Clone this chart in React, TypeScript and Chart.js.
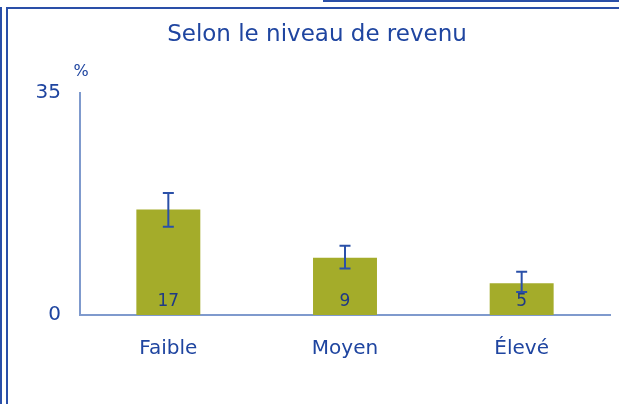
import React, { useEffect, useRef } from "react";
import { Chart, registerables } from "chart.js";

Chart.register(...registerables);

const categories = ["Faible", "Moyen", "Élevé"];
const values = [16.6, 9.0, 5.0];
const valueLabels = ["17", "9", "5"];
const errLow = [13.9, 7.3, 3.6];
const errHigh = [19.2, 10.9, 6.8];
const yTicks = [0, 35];
const titleText = "Selon le niveau de revenu";
const unitText = "%";

const TEXT = "#1f45a0";
const AXIS = "#7f9acd";
const BAR = "#a4ac2a";
const FONT = "'DejaVu Sans', sans-serif";

const extrasPlugin = {
  id: "extras",
  afterDatasetsDraw(chart: any) {
    const ctx = chart.ctx;
    const meta = chart.getDatasetMeta(0);
    const y = chart.scales.y;
    const area = chart.chartArea;
    ctx.save();
    // error bars
    ctx.strokeStyle = "#2a50a8";
    ctx.lineWidth = 2;
    meta.data.forEach((bar: any, i: number) => {
      const x = bar.x;
      const yl = y.getPixelForValue(errLow[i]);
      const yh = y.getPixelForValue(errHigh[i]);
      ctx.beginPath();
      ctx.moveTo(x, yl);
      ctx.lineTo(x, yh);
      ctx.moveTo(x - 5.5, yl);
      ctx.lineTo(x + 5.5, yl);
      ctx.moveTo(x - 5.5, yh);
      ctx.lineTo(x + 5.5, yh);
      ctx.stroke();
    });
    // value labels
    ctx.fillStyle = "#1f3a85";
    ctx.font = "17px " + FONT;
    ctx.textAlign = "center";
    ctx.textBaseline = "middle";
    meta.data.forEach((bar: any, i: number) => {
      ctx.fillText(valueLabels[i], bar.x, area.bottom - 13);
    });
    // unit
    ctx.fillStyle = TEXT;
    ctx.font = "16px " + FONT;
    ctx.fillText(unitText, area.left + 1, area.top - 21);
    ctx.restore();
  },
};

export default function App() {
  const ref = useRef<HTMLCanvasElement>(null);
  useEffect(() => {
    document.body.style.margin = "0";
    const chart = new Chart(ref.current as HTMLCanvasElement, {
      type: "bar",
      data: {
        labels: categories,
        datasets: [
          {
            data: values,
            backgroundColor: BAR,
            borderWidth: 0,
            barPercentage: 0.362,
            categoryPercentage: 1,
          },
        ],
      },
      options: {
        animation: false,
        responsive: false,
        maintainAspectRatio: false,
        layout: { padding: { left: 24, right: 9, top: 0, bottom: 0 } },
        plugins: {
          legend: { display: false },
          tooltip: { enabled: false },
          title: {
            display: true,
            text: titleText,
            color: TEXT,
            font: { family: FONT, size: 23, weight: "normal" },
            padding: { top: 21, bottom: 44 },
          },
        },
        scales: {
          x: {
            grid: { display: false, drawTicks: false },
            border: { display: true, color: AXIS, width: 2 },
            ticks: {
              color: TEXT,
              font: { family: FONT, size: 20 },
              padding: 22,
              maxRotation: 0,
            },
            afterFit: (s: any) => {
              s.height = 89;
            },
          },
          y: {
            min: 0,
            max: 35,
            grid: { display: false, drawTicks: false },
            border: { display: true, color: AXIS, width: 2 },
            ticks: {
              color: TEXT,
              font: { family: FONT, size: 20 },
              padding: 19,
            },
            afterBuildTicks: (s: any) => {
              s.ticks = yTicks.map((v) => ({ value: v }));
            },
            afterFit: (s: any) => {
              s.width = 56;
            },
          },
        },
      },
      plugins: [extrasPlugin],
    });
    return () => chart.destroy();
  }, []);

  const line = (l: number, t: number, w: number, h: number) => (
    <div
      style={{
        position: "absolute",
        left: l,
        top: t,
        width: w,
        height: h,
        background: "#2a4fa8",
      }}
    />
  );

  return (
    <div style={{ position: "relative", width: 619, height: 404, background: "#fff" }}>
      <canvas ref={ref} width={619} height={404} style={{ position: "absolute", left: 0, top: 0 }} />
      {line(0, 7, 2, 397)}
      {line(6, 7, 2, 397)}
      {line(6, 7, 613, 2)}
      {line(323, 0, 296, 2)}
    </div>
  );
}
